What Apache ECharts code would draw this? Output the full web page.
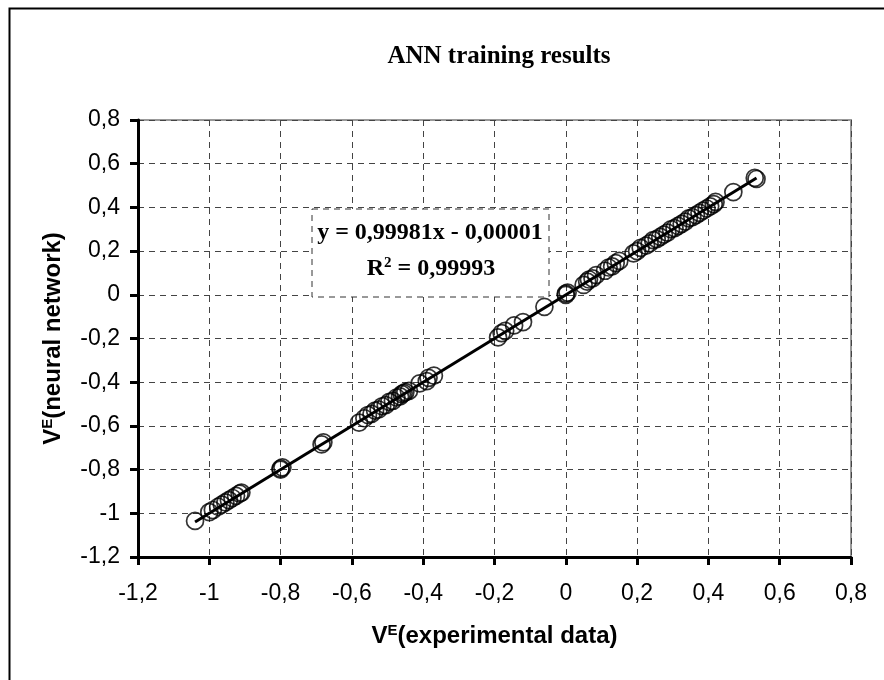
<!DOCTYPE html>
<html>
<head>
<meta charset="utf-8">
<script src="https://cdn.jsdelivr.net/npm/echarts@6/dist/echarts.min.js"></script>
<style>
  html, body { margin: 0; padding: 0; background: #fff; }
  #chart { width: 884px; height: 680px; }
</style>
</head>
<body>
<div id="chart"></div>
<script>
// experimental V^E values (x) and neural network output (y)
const xExp = [-1.04, -1.0, -0.99, -0.975, -0.965, -0.955, -0.945, -0.935, -0.925, -0.915, -0.91,
  -0.80, -0.80, -0.795, -0.685, -0.68,
  -0.58, -0.565, -0.555, -0.545, -0.535, -0.525, -0.515, -0.505, -0.495, -0.485, -0.475, -0.465, -0.46, -0.455, -0.45, -0.44,
  -0.41, -0.39, -0.385, -0.37,
  -0.19, -0.18, -0.17, -0.145, -0.12, -0.06,
  0.0, 0.0, 0.005,
  0.05, 0.06, 0.065, 0.075, 0.085, 0.11, 0.12, 0.13, 0.14, 0.15,
  0.19, 0.2, 0.21, 0.225, 0.235, 0.245, 0.255, 0.265, 0.275, 0.285, 0.295, 0.305, 0.315, 0.325,
  0.335, 0.345, 0.355, 0.365, 0.375, 0.385, 0.395, 0.405, 0.415, 0.42,
  0.47, 0.53, 0.535];
const yAnn = [-1.035, -0.995, -0.985, -0.97, -0.96, -0.95, -0.94, -0.93, -0.92, -0.91, -0.905,
  -0.80, -0.795, -0.79, -0.685, -0.675,
  -0.585, -0.565, -0.55, -0.545, -0.53, -0.525, -0.51, -0.505, -0.49, -0.485, -0.47, -0.465, -0.455, -0.45, -0.445, -0.44,
  -0.405, -0.395, -0.38, -0.37,
  -0.195, -0.175, -0.165, -0.14, -0.125, -0.055,
  0.0, 0.005, 0.01,
  0.045, 0.06, 0.07, 0.075, 0.09, 0.11, 0.125, 0.13, 0.145, 0.155,
  0.19, 0.2, 0.215, 0.225, 0.235, 0.25, 0.255, 0.265, 0.275, 0.285, 0.3, 0.305, 0.315, 0.325,
  0.335, 0.35, 0.355, 0.365, 0.375, 0.385, 0.395, 0.405, 0.415, 0.425,
  0.47, 0.535, 0.53];

const slope = 0.99981;
const intercept = -0.00001;
const axisTicks = [-1.2, 0.8, 0.2]; // min, max, step

const points = xExp.map((x, i) => [x, yAnn[i]]);
const xLo = Math.min(...xExp), xHi = Math.max(...xExp);
const trend = [[xLo, slope * xLo + intercept], [xHi, slope * xHi + intercept]];

const fmt = v => {
  const r = Math.round(v * 10) / 10;
  return String(r).replace('.', ',');
};

const sansAxis = {
  min: axisTicks[0], max: axisTicks[1], interval: axisTicks[2],
  axisLine: { onZero: false, lineStyle: { color: '#000', width: 3 } },
  axisTick: { length: 8, lineStyle: { color: '#000', width: 3 } },
  axisLabel: { formatter: fmt, fontFamily: 'Liberation Sans', fontSize: 23, color: '#000' },
  splitLine: { show: true, lineStyle: { color: '#444', width: 1, type: [6, 5] } },
  nameLocation: 'middle',
  nameTextStyle: {
    fontFamily: 'Liberation Sans', fontWeight: 'bold', fontSize: 24, color: '#000',
    rich: { sup: { fontFamily: 'Liberation Sans', fontWeight: 'bold', fontSize: 15, padding: [0, 0, 11, 0], color: '#000' } }
  }
};

const chart = echarts.init(document.getElementById('chart'));
chart.setOption({
  backgroundColor: '#fff',
  animation: false,
  title: {
    text: 'ANN training results',
    left: 494, top: 39, textAlign: 'center',
    textStyle: { fontFamily: 'Liberation Serif', fontWeight: 'bold', fontSize: 25, color: '#000' }
  },
  grid: { left: 138, right: 33, top: 120, bottom: 123, show: true, borderColor: '#999', borderWidth: 2 },
  xAxis: Object.assign({ type: 'value', name: 'V{sup|E}(experimental data)', nameGap: 66 }, sansAxis,
    { axisLabel: Object.assign({}, sansAxis.axisLabel, { margin: 25 }) }),
  yAxis: Object.assign({ type: 'value', name: 'V{sup|E}(neural network)', nameGap: 72 }, sansAxis,
    { axisLabel: Object.assign({}, sansAxis.axisLabel, { margin: 18 }) }),
  series: [
    {
      type: 'line', data: trend, symbol: 'none', silent: true,
      lineStyle: { color: '#000', width: 3 }, z: 3
    },
    {
      type: 'scatter', data: points, symbol: 'circle', symbolSize: 17,
      itemStyle: { color: 'rgba(0,0,0,0)', borderColor: '#000', borderWidth: 1.7 }, z: 4
    }
  ],
  graphic: [
    { type: 'rect', left: 7, top: 6, shape: { width: 900, height: 700 }, style: { fill: 'none', stroke: '#000', lineWidth: 2 }, z: -1 },
    { type: 'rect', x: 312, y: 209, shape: { width: 237, height: 88 }, style: { fill: '#fff', stroke: '#333', lineWidth: 1, lineDash: [6, 5] }, z: 10 },
    {
      type: 'text', x: 430, y: 233, z: 11,
      style: { text: 'y = 0,99981x - 0,00001', align: 'center', verticalAlign: 'middle', fontFamily: 'Liberation Serif', fontWeight: 'bold', fontSize: 24, fill: '#000' }
    },
    {
      type: 'text', x: 431, y: 269, z: 11,
      style: {
        text: 'R{sup|2} = 0,99993', align: 'center', verticalAlign: 'middle', fontFamily: 'Liberation Serif', fontWeight: 'bold', fontSize: 24, fill: '#000',
        rich: { sup: { fontFamily: 'Liberation Serif', fontWeight: 'bold', fontSize: 15, padding: [0, 0, 11, 0] } }
      }
    }
  ]
});
</script>
</body>
</html>
